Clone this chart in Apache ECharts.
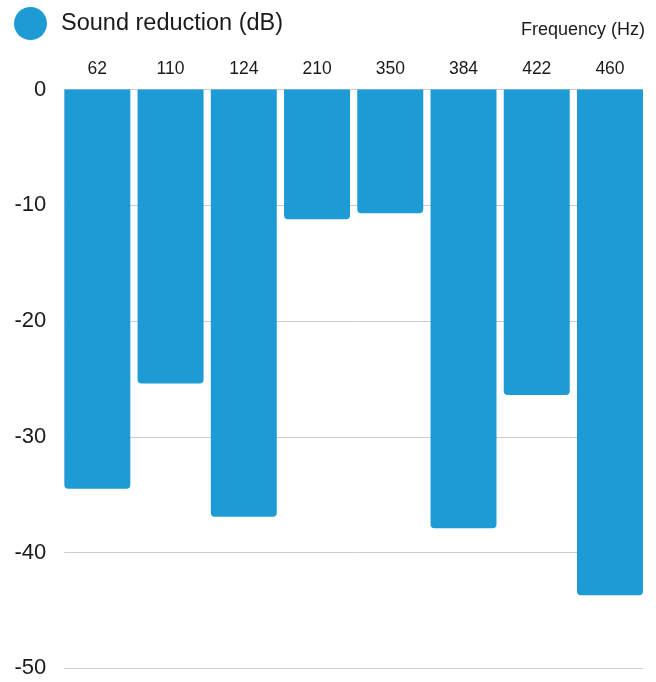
<!DOCTYPE html>
<html>
<head>
<meta charset="utf-8">
<script src="https://cdn.jsdelivr.net/npm/echarts@6/dist/echarts.min.js"></script>
<style>
html,body{margin:0;padding:0;background:#fff;}
#chart{width:656px;height:682px;}
</style>
</head>
<body>
<div id="chart"></div>
<script>
var categories = ['62', '110', '124', '210', '350', '384', '422', '460'];
var soundReduction = [-34.5, -25.4, -36.9, -11.2, -10.7, -37.9, -26.4, -43.7];
var seriesName = 'Sound reduction (dB)';
var xAxisTitle = 'Frequency (Hz)';
var yMin = -50, yMax = 0, yStep = 10;

var font = '"Liberation Sans", Arial, Helvetica, sans-serif';
var chart = echarts.init(document.getElementById('chart'), null, {renderer: 'canvas'});
chart.setOption({
  backgroundColor: '#ffffff',
  animation: false,
  title: {
    text: xAxisTitle,
    right: 11, top: 21, padding: 0,
    textStyle: {fontFamily: font, fontSize: 18, fontWeight: 'normal', color: '#1a1a1a'}
  },
  legend: {
    data: [seriesName],
    left: 14, top: 7, padding: 0,
    icon: 'circle', itemWidth: 33, itemHeight: 33,
    textStyle: {fontFamily: font, fontSize: 23.5, color: '#1a1a1a', padding: [2, 0, 0, 9]}
  },
  grid: [
    {left: 60.7, right: 9.4, top: 89.5, bottom: 13.7},
    {left: 64.3, right: 13, top: 89.5, bottom: 13.7}
  ],
  xAxis: [
    {
      type: 'category', gridIndex: 0, position: 'top', data: categories,
      axisLine: {show: false}, axisTick: {show: false},
      axisLabel: {fontFamily: font, fontSize: 17.5, color: '#1a1a1a', margin: 11}
    },
    {type: 'value', gridIndex: 1, show: false, min: 0, max: 1}
  ],
  yAxis: [
    {type: 'value', gridIndex: 0, min: yMin, max: yMax, interval: yStep, show: false},
    {
      type: 'value', gridIndex: 1, min: yMin, max: yMax, interval: yStep,
      axisLine: {show: false}, axisTick: {show: false},
      splitLine: {show: true, lineStyle: {color: '#cccccc', width: 1}},
      axisLabel: {fontFamily: font, fontSize: 22, color: '#1a1a1a', margin: 18}
    }
  ],
  series: [{
    name: seriesName,
    type: 'bar',
    xAxisIndex: 0, yAxisIndex: 0,
    data: soundReduction,
    barCategoryGap: '9.9%',
    itemStyle: {color: '#1e9bd5', borderRadius: [0, 0, 4, 4]}
  }]
});
</script>
</body>
</html>
